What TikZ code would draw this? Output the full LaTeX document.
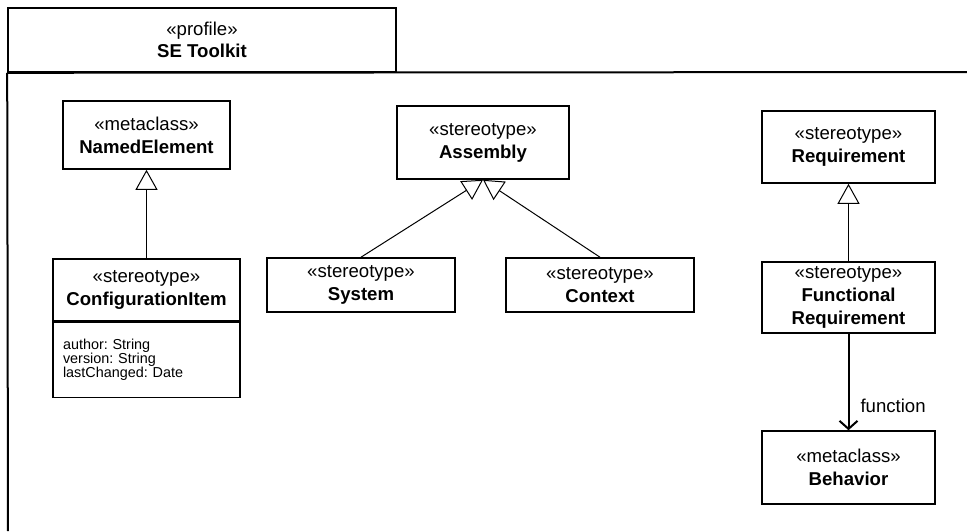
\documentclass[tikz,border=0pt]{standalone}
\usepackage{fontspec}
\setmainfont{Liberation Sans}
\usetikzlibrary{arrows.meta,positioning}
\frenchspacing

\begin{document}
\begin{tikzpicture}[x=0.5pt,y=-0.5pt,
	umlbox/.style={draw, line width=0.8pt, align=center, inner sep=0pt, font=\fontsize{9.3}{11.5}\selectfont},
	attrbox/.style={draw, line width=0.8pt, align=left, inner ysep=0pt, inner xsep=5pt, font=\fontsize{7.2}{7}\selectfont},
	generalize/.style={line width=0.5pt, -{Triangle[open, length=10pt, width=11pt]}},
	assoc/.style={line width=1pt, -{Straight Barb[length=4pt, width=9pt]}}]
		\useasboundingbox (0,0) rectangle (967,531);
		\node[umlbox, minimum width=194pt, minimum height=32pt, font=\fontsize{9.3}{11}\selectfont] (tab) at (202,40) {«profile»\\\textbf{SE Toolkit}};
		\draw[line width=1pt] (tab.south west) -- (8,531);
		\draw[line width=1pt] (tab.south west) -- (967,72);
		\node[umlbox, minimum width=83.5pt, minimum height=34pt] (named) at (146.5,135) {«metaclass»\\\textbf{NamedElement}};
		\node[umlbox, minimum width=93.5pt, minimum height=31pt] (cfg) at (146.5,290) {«stereotype»\\\textbf{ConfigurationItem}};
		\node[attrbox, below=0pt of cfg, text width=83.5pt, minimum height=37.5pt] (cfgattr) {author: String\\version: String\\lastChanged: Date};
		\draw[generalize] (cfg.north) -- (named.south);
		\node[umlbox, minimum width=86pt, minimum height=36.5pt] (assembly) at (483,142.5) {«stereotype»\\\textbf{Assembly}};
		\node[umlbox, minimum width=94pt, minimum height=27pt] (system) at (361,285) {«stereotype»\\\textbf{System}};
		\node[umlbox, minimum width=94pt, minimum height=27pt] (context) at (600,285) {«stereotype»\\\textbf{Context}};
		\draw[generalize] (system.north) -- (assembly.south);
		\draw[generalize] (context.north) -- (assembly.south);
		\node[umlbox, minimum width=86.5pt, minimum height=36pt] (req) at (848.5,147) {«stereotype»\\\textbf{Requirement}};
		\node[umlbox, minimum width=86.5pt, minimum height=35.5pt] (funcreq) at (848.5,297.5) {«stereotype»\\\textbf{Functional}\\\textbf{Requirement}};
		\node[umlbox, minimum width=86.5pt, minimum height=36.5pt] (behavior) at (848.5,467.5) {«metaclass»\\\textbf{Behavior}};
		\draw[generalize] (funcreq.north) -- (req.south);
		\draw[assoc] (funcreq.south) -- (behavior.north) node[pos=0.745, anchor=west, inner sep=0pt, xshift=5.5pt, font=\fontsize{9.3}{11.5}\selectfont] (fnlabel) {function};
	\end{tikzpicture}
\end{document}
